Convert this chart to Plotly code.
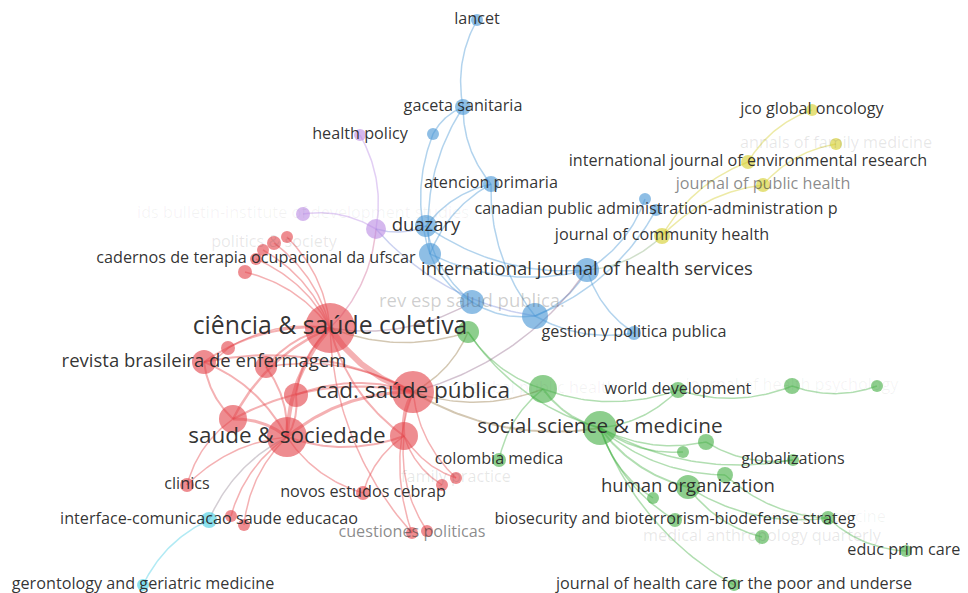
import numpy as np
import plotly.graph_objects as go

# ---- data: journals (VOSviewer-style map) ----
labels = [
    "ciência & saúde coletiva", "cad. saúde pública", "saude & sociedade",
    "revista brasileira de enfermagem", "", "", "", "", "",
    "", "cadernos de terapia ocupacional da ufscar", "", "politics & society", "",
    "clinics", "novos estudos cebrap", "", "", "", "family practice",
    "cuestiones politicas", "",
    "interface-comunicacao saude educacao", "gerontology and geriatric medicine",
    "", "ids bulletin-institute of development studies", "health policy",
    "lancet", "gaceta sanitaria", "", "atencion primaria", "duazary", "",
    "rev esp salud publica.", "", "international journal of health services",
    "gestion y politica publica", "", "canadian public administration-administration p",
    "jco global oncology", "annals of family medicine",
    "international journal of environmental research", "journal of public health",
    "journal of community health",
    "", "global public health", "social science & medicine", "world development",
    "journal of health psychology", "", "", "", "globalizations", "",
    "human organization", "", "biosecurity and bioterrorism-biodefense strateg",
    "social medicine", "medical anthropology quarterly", "educ prim care.",
    "journal of health care for the poor and underse", "colombia medica",
]
map_x = [330, 413, 287, 204, 228, 266, 296, 233, 404,
         245, 256, 263, 274, 287,
         187, 363, 231, 244, 442, 456,
         412, 427,
         209, 143,
         376, 303, 360,
         477, 463, 433, 491, 426, 430,
         472, 535, 587,
         634, 645, 656,
         812, 836, 748, 763, 662,
         468, 543, 600, 678, 792, 877, 706, 683, 793, 725,
         688, 653, 675, 828, 762, 906, 734, 499]
map_y = [328, 392, 437, 362, 348, 367, 395, 419, 436,
         272, 259, 250, 243, 237,
         485, 493, 516, 525, 485, 478,
         533, 531,
         520, 585,
         229, 214, 135,
         20, 107, 134, 184, 226, 254,
         302, 316, 270,
         333, 199, 210,
         110, 144, 162, 185, 236,
         332, 389, 428, 390, 386, 386, 442, 452, 460, 475,
         487, 498, 520, 518, 537, 551, 585, 460]
weight = [25, 21, 20, 12, 7, 11, 12, 14, 14,
          7, 6, 6, 7, 6,
          7, 7, 6, 6, 6, 6,
          6, 6,
          8, 6,
          10, 7, 6,
          6, 8, 6, 8, 11, 11,
          12, 13, 12,
          7, 6, 6,
          6, 6, 7, 7, 8,
          11, 14, 17, 8, 8, 6, 8, 6, 6, 8,
          12, 6, 7, 7, 7, 6, 6, 7]
cluster = (["red"] * 22 + ["cyan"] * 2 + ["purple"] * 3 + ["blue"] * 12 +
           ["yellow"] * 5 + ["green"] * 18)
# label emphasis: >=1 visible (value picks size), 0.5 grey, <0.4 faint
label_level = [3.2, 3.0, 2.8, 2, 0, 0, 0, 0, 0,
               0, 1, 0, 0.1, 0,
               1, 1, 0, 0, 0, 0.1,
               0.5, 0,
               1, 1,
               0, 0.05, 1,
               1, 1, 0, 1, 2, 0,
               0.2, 0, 2,
               1, 0, 1,
               1, 0.1, 1, 0.5, 1,
               0, 0.05, 2.6, 1, 0.05, 0, 0, 0, 1, 0,
               2, 0, 1, 0.05, 0.1, 1, 1, 1]

edge_src = [0, 0, 1, 0, 0, 0, 0, 0, 0, 0, 0, 0, 0, 0, 2, 2, 2, 2, 2, 1, 1, 1, 1, 1, 3, 3,
            2, 7, 2, 2, 2, 8, 8, 8, 1, 8, 1, 0, 0, 0, 1, 1, 1, 2, 0,
            22, 24, 24, 24, 24,
            27, 28, 28, 29, 28, 30, 30, 31, 32, 32, 33, 34, 35, 34, 35, 34, 35, 30, 31,
            39, 41, 40, 42,
            44, 44, 45, 45, 46, 46, 46, 46, 46, 46, 46, 46, 46, 47, 48, 50, 54, 57, 54, 53, 45, 1]
edge_dst = [1, 2, 2, 3, 4, 5, 6, 7, 8, 9, 10, 11, 12, 13, 3, 5, 6, 7, 8, 6, 7, 8, 3, 5, 7, 4,
            14, 14, 16, 17, 15, 15, 18, 19, 20, 21, 19, 24, 33, 44, 44, 45, 46, 22, 20,
            23, 25, 26, 31, 34,
            28, 30, 29, 32, 32, 31, 34, 35, 33, 35, 34, 35, 36, 36, 37, 38, 43, 32, 33,
            41, 43, 42, 43,
            46, 45, 46, 61, 47, 50, 51, 52, 53, 54, 55, 56, 60, 48, 49, 52, 57, 59, 58, 57, 47, 35]
edge_w = [6, 4, 3, 2, 1.5, 2, 2, 2.5, 2, 1.5, 1.5, 1.5, 1.5, 1.5, 2, 2, 2, 3, 2, 2, 2, 3, 2, 1.5, 2, 1.5,
          1.5, 1.5, 1.5, 1.5, 1.5, 1.5, 1.5, 1.5, 1.5, 1.5, 1.5, 1.5, 1.5, 1.5, 1.5, 1.5, 2, 1.5, 1.5,
          1.5, 1.5, 1.5, 1.5, 1.5,
          1.5, 1.5, 1.5, 1.5, 1.5, 1.5, 1.5, 1.5, 1.5, 1.5, 1.5, 1.5, 1.5, 1.5, 1.5, 1.5, 1.5, 1.5, 1.5,
          1.5, 1.5, 1.5, 1.5,
          1.5, 1.5, 2, 1.5, 1.5, 1.5, 1.5, 1.5, 1.5, 2, 1.5, 1.5, 1.5, 1.5, 1.5, 1.5, 1.5, 1.5, 1.5, 1.5, 1.5, 1.5]

# ---- styles ----
palette = {
    "red": (228, 68, 74), "blue": (72, 150, 212), "green": (70, 176, 70),
    "yellow": (212, 206, 44), "purple": (186, 140, 228), "cyan": (70, 206, 228),
}

def rgba(c, a):
    return f"rgba({c[0]},{c[1]},{c[2]},{a})"

fig = go.Figure()

# edges as curved arcs
for s, d, w in zip(edge_src, edge_dst, edge_w):
    p0 = np.array([map_x[s], map_y[s]], float)
    p2 = np.array([map_x[d], map_y[d]], float)
    v = p2 - p0
    n = np.array([-v[1], v[0]])
    p1 = (p0 + p2) / 2 + 0.18 * n
    t = np.linspace(0, 1, 40)[:, None]
    pts = (1 - t) ** 2 * p0 + 2 * (1 - t) * t * p1 + t ** 2 * p2
    c1 = palette[cluster[s]]
    c2 = palette[cluster[d]]
    c = tuple((a + b) // 2 for a, b in zip(c1, c2))
    fig.add_trace(go.Scatter(
        x=pts[:, 0], y=pts[:, 1], mode="lines",
        line=dict(color=rgba(c, 0.42), width=w, shape="linear"),
        hoverinfo="skip", showlegend=False))

# nodes
fig.add_trace(go.Scatter(
    x=map_x, y=map_y, mode="markers",
    marker=dict(size=[2 * r for r in weight],
                color=[rgba(palette[c], 0.88) for c in cluster],
                line=dict(width=0)),
    hoverinfo="skip", showlegend=False, cliponaxis=False))

# labels
size_for = {3.2: 24.8, 3.0: 22.5, 2.8: 22.5, 2.6: 20.8, 2: 18.5, 1: 16.2}
for lab, x, y, lv in zip(labels, map_x, map_y, label_level):
    if not lab:
        continue
    if lv >= 1:
        fs = size_for.get(lv, 16.2)
        col = "rgba(40,40,40,0.95)"
    elif lv >= 0.4:
        fs = 16.2
        col = "rgba(60,60,60,0.6)"
    elif lv >= 0.15:
        fs = 18.5
        col = "rgba(60,60,60,0.25)"
    else:
        fs = 16.2
        col = f"rgba(60,60,60,{0.12 if lv >= 0.1 else 0.06})"
    fig.add_trace(go.Scatter(
        x=[x], y=[y], mode="text", text=[lab], textposition="middle center",
        textfont=dict(family="Open Sans", size=fs, color=col),
        hoverinfo="skip", showlegend=False, cliponaxis=False))

# page body has an 8px margin: the plot area starts at screen pixel 8
fig.update_layout(
    width=960, height=585, margin=dict(l=0, r=0, t=0, b=0),
    paper_bgcolor="white", plot_bgcolor="white",
    xaxis=dict(range=[8, 968], visible=False, fixedrange=True),
    yaxis=dict(range=[593, 8], visible=False, fixedrange=True),
)
fig.write_html("out.html")
